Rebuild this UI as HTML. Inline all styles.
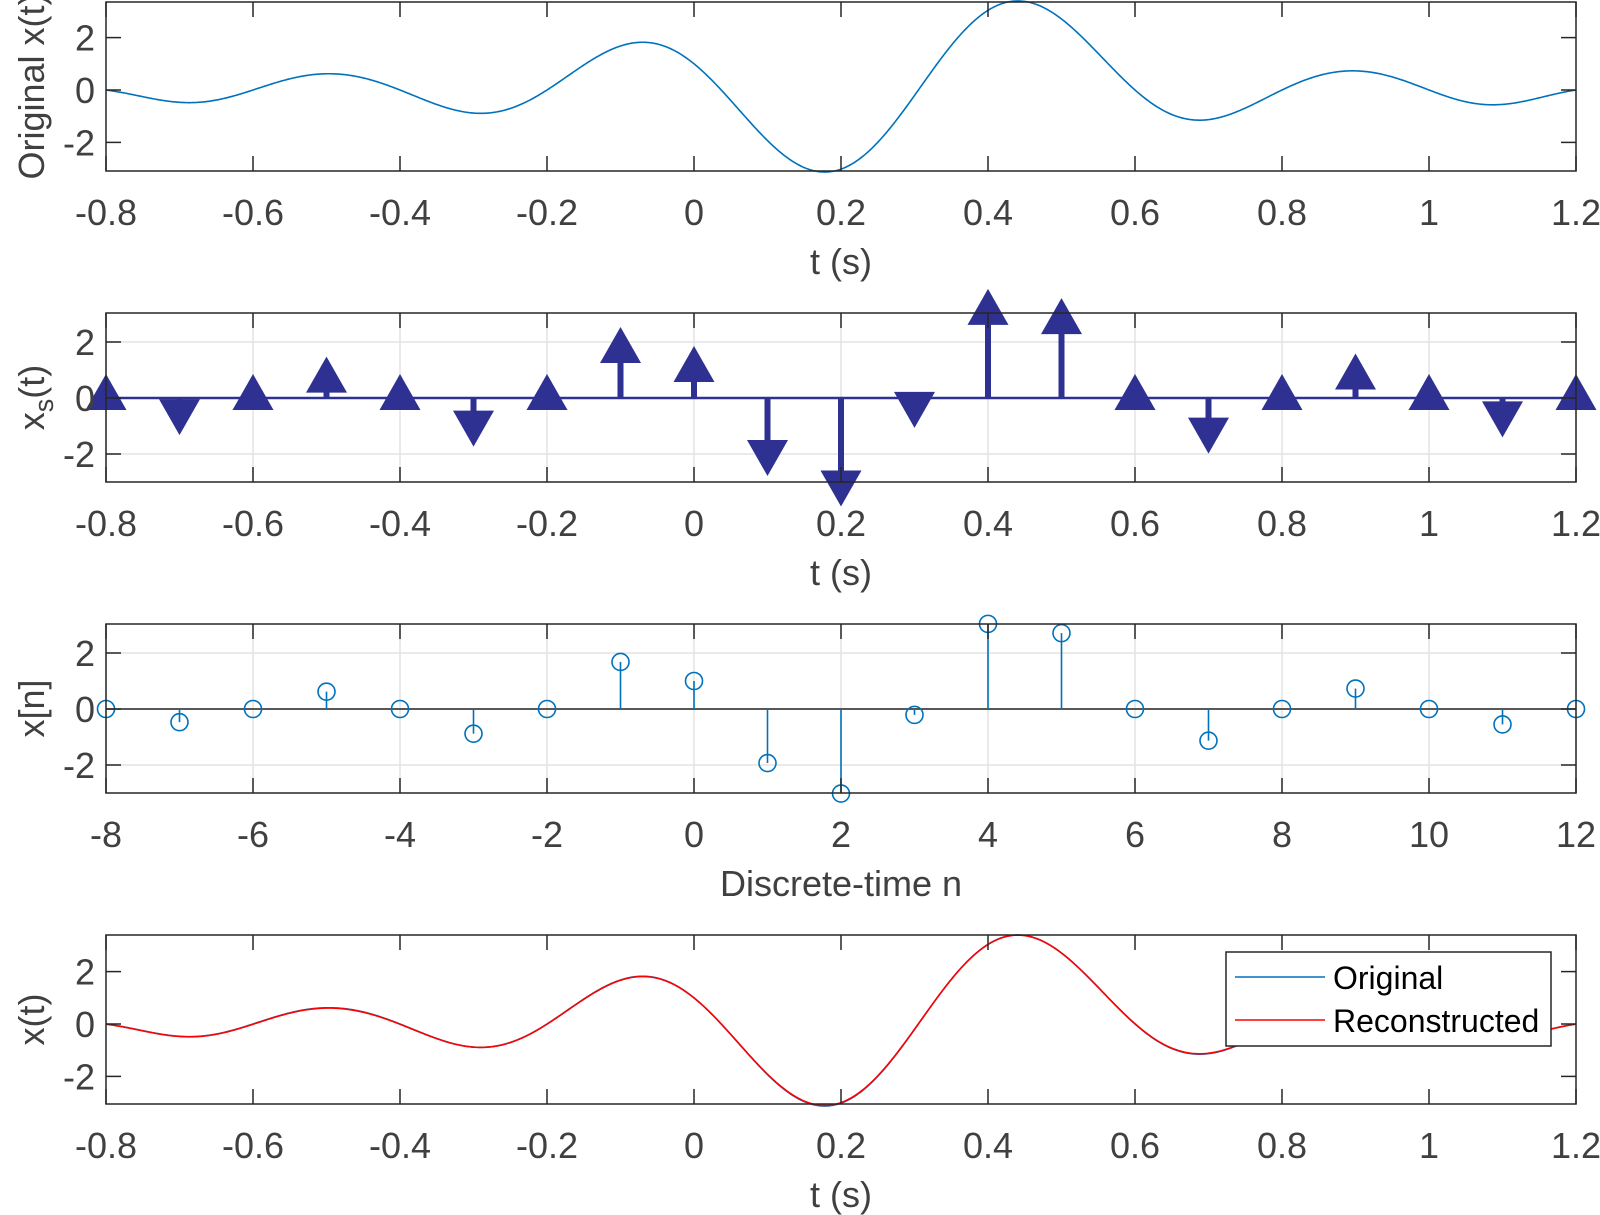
<!DOCTYPE html>
<html><head><meta charset="utf-8"><style>
html,body{margin:0;padding:0;background:#fff;}
svg{display:block;font-family:"Liberation Sans",Arial,sans-serif;}
</style></head><body>
<svg id="s" width="1600" height="1215" viewBox="0 0 1600 1215" xmlns="http://www.w3.org/2000/svg"></svg>
<script>
var S=document.getElementById('s');var h='';
var X0=106,X1=1576;
function X(t){return X0+(t+0.8)*735;}
var ns=[],vs=[0,-0.47,0,0.62,0,-0.88,0,1.68,1.0,-1.93,-3.02,-0.21,3.04,2.71,0,-1.13,0,0.73,0,-0.55,0];
for(var n=-8;n<=12;n++)ns.push(n);
function sinc(x){return Math.abs(x)<1e-9?1:Math.sin(Math.PI*x)/(Math.PI*x);}
function rec(t){var s=0;for(var i=0;i<ns.length;i++)s+=vs[i]*sinc(t*10-ns[i]);return s;}
function curve(z,u,col,f,w){var p='';for(var i=0;i<=1000;i++){var t=-0.8+2*i/1000;p+=(i?'L':'M')+X(t).toFixed(2)+','+(z-f(t)*u).toFixed(2);}h+='<path d="'+p+'" fill="none" stroke="'+col+'" stroke-width="'+(w||1.6)+'"/>';}
function axes(top,bot,z,u,xt){
  for(var i=0;i<xt.length;i++){var x=X(-0.8+0.2*i);h+='<line x1="'+x+'" y1="'+top+'" x2="'+x+'" y2="'+bot+'" stroke="#e3e3e3" stroke-width="1.5"/>';}
  [-2,0,2].forEach(function(v){h+='<line x1="'+X0+'" y1="'+(z-v*u)+'" x2="'+X1+'" y2="'+(z-v*u)+'" stroke="#e3e3e3" stroke-width="1.5"/>';});
}
var TC='#404040';
function frame(top,bot,z,u,xt,xl,yl){
  h+='<rect x="'+X0+'" y="'+top+'" width="'+(X1-X0)+'" height="'+(bot-top)+'" fill="none" stroke="#262626" stroke-width="1.5"/>';
  for(var i=0;i<xt.length;i++){var x=X(-0.8+0.2*i);
    h+='<line x1="'+x+'" y1="'+top+'" x2="'+x+'" y2="'+(top+15)+'" stroke="#262626" stroke-width="1.5"/>';
    h+='<line x1="'+x+'" y1="'+bot+'" x2="'+x+'" y2="'+(bot-15)+'" stroke="#262626" stroke-width="1.5"/>';
    h+='<text x="'+x+'" y="'+(bot+54)+'" font-size="36" fill="'+TC+'" text-anchor="middle">'+xt[i]+'</text>';}
  [-2,0,2].forEach(function(v){var y=z-v*u;
    h+='<line x1="'+X0+'" y1="'+y+'" x2="'+(X0+15)+'" y2="'+y+'" stroke="#262626" stroke-width="1.5"/>';
    h+='<line x1="'+X1+'" y1="'+y+'" x2="'+(X1-15)+'" y2="'+y+'" stroke="#262626" stroke-width="1.5"/>';
    h+='<text x="95" y="'+(y+13)+'" font-size="36" fill="'+TC+'" text-anchor="end">'+v+'</text>';});
  h+='<text x="'+((X0+X1)/2)+'" y="'+(bot+103)+'" font-size="36" fill="'+TC+'" text-anchor="middle">'+xl+'</text>';
  h+='<text transform="translate(44,'+((top+bot)/2)+') rotate(-90)" font-size="36" fill="'+TC+'" text-anchor="middle">'+yl+'</text>';
}
var tl=['-0.8','-0.6','-0.4','-0.2','0','0.2','0.4','0.6','0.8','1','1.2'];
var nl=['-8','-6','-4','-2','0','2','4','6','8','10','12'];
curve(90,26.2,'#0072BD',rec);
frame(2,171,90,26.2,tl,'t (s)','Original x(t)');
axes(313,482,398,28,tl);
h+='<line x1="'+X0+'" y1="398" x2="'+X1+'" y2="398" stroke="#2E3192" stroke-width="2.5"/>';
for(var i=0;i<ns.length;i++){var x=X(ns[i]/10),v=vs[i],y=398-v*28;
  h+='<line x1="'+x+'" y1="398" x2="'+x+'" y2="'+y+'" stroke="#2E3192" stroke-width="6"/>';
  if(v>=0)h+='<polygon points="'+x+','+(y-24)+' '+(x-20.5)+','+(y+12)+' '+(x+20.5)+','+(y+12)+'" fill="#2E3192"/>';
  else h+='<polygon points="'+x+','+(y+24)+' '+(x-20.5)+','+(y-12)+' '+(x+20.5)+','+(y-12)+'" fill="#2E3192"/>';}
frame(313,482,398,28,tl,'t (s)','x<tspan font-size="27" dy="9">s</tspan><tspan dy="-9">(t)</tspan>');
axes(624,793,709,28,nl);
h+='<line x1="'+X0+'" y1="709" x2="'+X1+'" y2="709" stroke="#262626" stroke-width="1.5"/>';
for(var i=0;i<ns.length;i++){var x=X(ns[i]/10),v=vs[i],y=709-v*28;
  h+='<line x1="'+x+'" y1="709" x2="'+x+'" y2="'+y+'" stroke="#0072BD" stroke-width="1.6"/>';
  h+='<circle cx="'+x+'" cy="'+y+'" r="8.5" fill="none" stroke="#0072BD" stroke-width="1.6"/>';}
frame(624,793,709,28,nl,'Discrete-time n','x[n]');
curve(1024,26.2,'#0072BD',rec);
curve(1024,26.2,'#FF0000',function(t){return rec(t)*0.995+0.01*Math.sin(t*3);},1.6);
frame(935,1104,1024,26.2,tl,'t (s)','x(t)');
h+='<rect x="1226" y="952" width="325" height="94" fill="#fff" stroke="#262626" stroke-width="1.5"/>';
h+='<line x1="1235" y1="977" x2="1325" y2="977" stroke="#0072BD" stroke-width="1.6"/>';
h+='<line x1="1235" y1="1020" x2="1325" y2="1020" stroke="#FF0000" stroke-width="1.6"/>';
h+='<text x="1333" y="989" font-size="32" fill="#000">Original</text>';
h+='<text x="1333" y="1032" font-size="32" fill="#000">Reconstructed</text>';
S.innerHTML=h;
</script>
</body></html>
